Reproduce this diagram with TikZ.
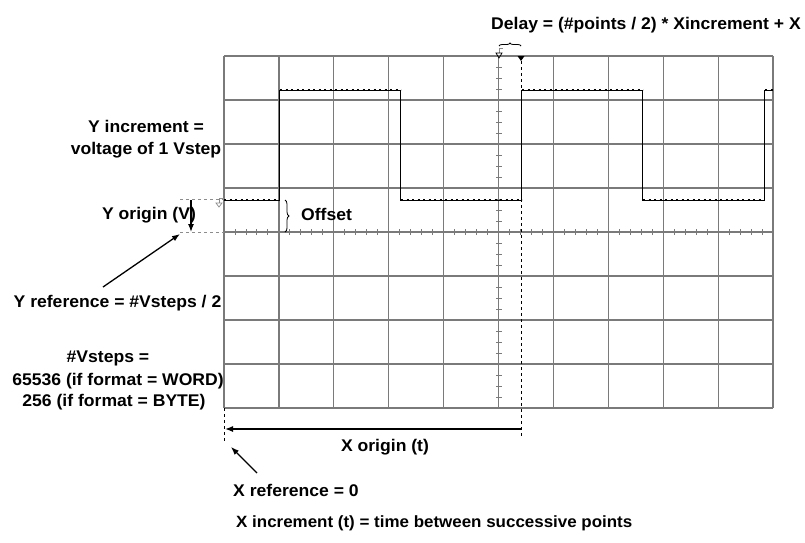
\documentclass[tikz,border=0pt]{standalone}
\usepackage{fontspec}
\setmainfont[FakeStretch=1.04]{Liberation Sans}
\usetikzlibrary{arrows.meta,decorations.pathreplacing}
\definecolor{gridgray}{RGB}{122,122,122}
\definecolor{refgray}{RGB}{140,140,140}
\begin{document}
\begin{tikzpicture}[x=1pt,y=-1pt,
  lbl/.style={font=\fontsize{16.9}{22}\selectfont\bfseries, inner sep=0pt},
  xlbl/.style={font=\fontsize{16.3}{22}\selectfont\bfseries, inner sep=0pt},
  gridln/.style={draw=gridgray, line width=1.2pt},
  tickln/.style={draw=gridgray, line width=0.9pt},
  waveln/.style={draw=black, line width=0.9pt},
  dotrow/.style={draw=black, line width=2pt, dash pattern=on 2pt off 3.5pt},
  dashln/.style={draw=black, line width=0.8pt, dash pattern=on 3pt off 3pt},
  refln/.style={draw=refgray, line width=1pt, dash pattern=on 3pt off 3pt},
  arr/.style={draw=black, line width=1.3pt, -{Latex[length=8pt,width=6pt]}},
  bracestyle/.style={draw=black, line width=0.8pt, decorate}]
\useasboundingbox (0,0) rectangle (805,542);
\clip (0,0) rectangle (805,542);
% grid
\foreach \i in {0,...,10} \draw[gridln] ({224+54.9*\i},56) -- ({224+54.9*\i},408);
\foreach \j in {0,...,8} \draw[gridln] (224,{56+44*\j}) -- (773,{56+44*\j});
% ticks on centre axes
\foreach \k in {1,...,49} \draw[tickln] ({224+10.98*\k},229) -- ({224+10.98*\k},235);
\foreach \k in {1,...,31} \draw[tickln] (496,{56+11*\k}) -- (502,{56+11*\k});
% waveform
\draw[waveln] (224,200) -- (279.5,200) -- (279.5,90) -- (400,90) -- (400,200) -- (521,200) -- (521,90) -- (642,90) -- (642,200) -- (764,200) -- (764,90) -- (773,90);
\draw[dotrow] (224,200) -- (280,200);
\draw[dotrow] (280,90) -- (401,90);
\draw[dotrow] (401,200) -- (522,200);
\draw[dotrow] (522,90) -- (643,90);
\draw[dotrow] (643,200) -- (765,200);
\draw[dotrow] (765,90) -- (773,90);
% ground marker at left
\draw[draw=refgray, line width=0.7pt] (224,198) -- (219,198) -- (219,203);
\draw[draw=refgray, line width=0.7pt] (216,203) -- (222,203) -- (219,207) -- cycle;
% trigger markers at top
\draw[draw=refgray, line width=0.7pt] (503,48) -- (499,48) -- (499,53);
\draw[draw=black, line width=0.7pt] (496,53) -- (502,53) -- (499,58) -- cycle;
\fill[black] (517.5,56) -- (524.5,56) -- (521,61) -- cycle;
% delay brace
\draw[bracestyle, decoration={brace, amplitude=3pt}] (499,46) -- (521,46);
% x origin dashed line and x reference line
\draw[dashln] (521,61) -- (521,437);
\draw[dashln] (224,408) -- (224,441);
% y origin reference lines
\draw[refln] (180,199) -- (224,199);
\draw[refln] (180,232) -- (224,232);
% offset brace
\draw[bracestyle, decoration={brace, amplitude=4pt}] (285,200) -- (285,232);
% labels
\node[lbl, anchor=west] (delay) at (491,25) {Delay = (\#points / 2) * Xincrement + X};
\node[lbl, align=center] (yinc) at (146,139.5) {Y increment =\\voltage of 1 Vstep};
\node[lbl] (yorig) at (149,215) {Y origin (V)};
\node[lbl, anchor=west] (offset) at (301,214) {Offset};
\node[lbl] (yref) at (117.5,303) {Y reference = \#Vsteps / 2};
\node[lbl] (vs1) at (108,358) {\#Vsteps =};
\node[lbl] (vs2) at (118,381) {65536 (if format = WORD)};
\node[lbl] (vs3) at (114,402) {256 (if format = BYTE)};
\node[lbl] (xorig) at (385,447) {X origin (t)};
\node[lbl, anchor=west] (xref) at (233,490) {X reference = 0};
\node[xlbl, anchor=west] (xinc) at (236,523) {X increment (t) = time between successive points};
% arrow end points
\coordinate (yotop) at (191,200);
\coordinate (yobot) at (191,232);
\coordinate (xostart) at (521,429);
\coordinate (xoend) at (225,429);
\coordinate (xrtail) at (257,473);
\coordinate (xrhead) at (231,447);
\coordinate (yrtail) at (103,287);
\coordinate (yrhead) at (180,234);
% arrows
\draw[arr] (yotop) -- (yobot);
\draw[arr] (xostart) -- (xoend);
\draw[arr] (xrtail) -- (xrhead);
\draw[arr] (yrtail) -- (yrhead);
\end{tikzpicture}
\end{document}
